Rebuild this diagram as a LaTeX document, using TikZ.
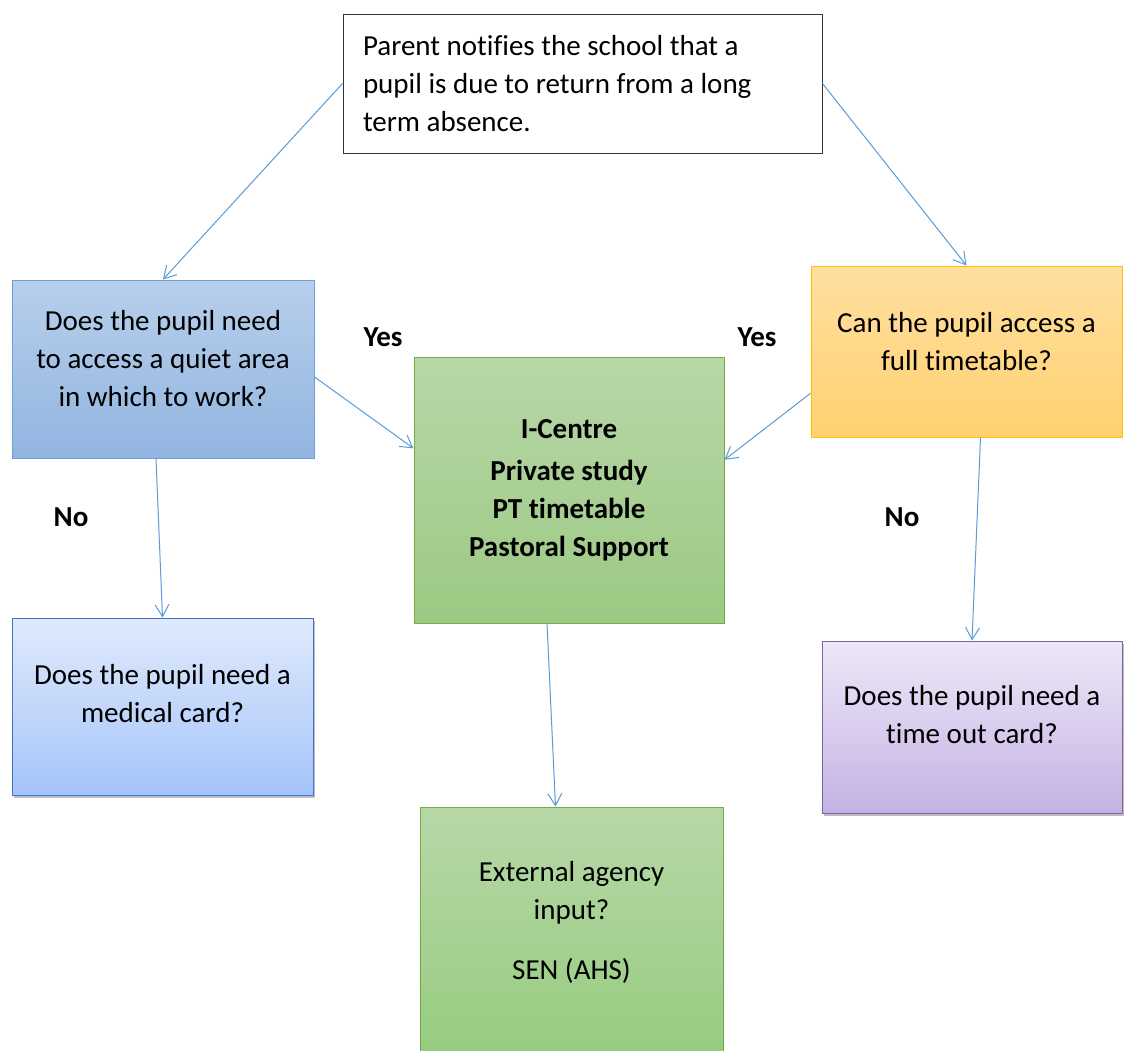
\documentclass[tikz,border=0pt]{standalone}
\usepackage{fontspec}
\setmainfont{Carlito}[Ligatures=NoCommon]
\usetikzlibrary{arrows.meta,shadows}
\definecolor{linkblue}{RGB}{91,155,213}
\definecolor{quietline}{RGB}{108,160,218}
\definecolor{quiettop}{RGB}{183,207,235}
\definecolor{quietbot}{RGB}{146,181,225}
\definecolor{medline}{RGB}{68,114,196}
\definecolor{medtop}{RGB}{224,234,252}
\definecolor{medbot}{RGB}{165,196,250}
\definecolor{greenline}{RGB}{112,173,71}
\definecolor{greentop}{RGB}{184,215,168}
\definecolor{greenbot}{RGB}{156,201,131}
\definecolor{orangeline}{RGB}{255,192,0}
\definecolor{orangetop}{RGB}{255,223,160}
\definecolor{orangebot}{RGB}{255,209,112}
\definecolor{purpline}{RGB}{128,100,162}
\definecolor{purptop}{RGB}{238,232,247}
\definecolor{purpbot}{RGB}{196,178,228}
\tikzset{
  box/.style={draw, rectangle, inner sep=0pt, line width=1pt},
  txt/.style={align=center, font=\fontsize{29}{38}\selectfont},
  lbl/.style={font=\fontsize{29}{38}\selectfont\bfseries},
  shade/.style={drop shadow={shadow xshift=2pt, shadow yshift=-3pt, opacity=0.25, fill=black}},
  link/.style={draw=linkblue, line width=1pt, -{Straight Barb[length=12pt,width=14pt]}}
}
\begin{document}
\begin{tikzpicture}[x=1pt,y=-1pt]
    \clip (0,0) rectangle (1124,1050);
    \fill[white] (0,0) rectangle (1124,1050);
    % boxes
    \node[box, draw=black!80, fill=white, minimum width=479pt, minimum height=139pt,
          text width=439pt, inner xsep=20pt, align=flush left,
          font=\fontsize{29}{38}\selectfont] (parent) at (582.5,83.5)
          {Parent notifies the school that a\\pupil is due to return from a long\\term absence.};
    \node[box, draw=quietline, top color=quiettop, bottom color=quietbot,
          minimum width=302pt, minimum height=178pt] (quiet) at (163,369) {};
    \node[txt] (quiet-txt) at ([yshift=10pt]quiet.center)
          {Does the pupil need\\to access a quiet area\\in which to work?};
    \node[box, draw=orangeline, top color=orangetop, bottom color=orangebot,
          minimum width=311pt, minimum height=171pt] (full) at (966.5,351.5) {};
    \node[txt] (full-txt) at ([yshift=10pt]full.center)
          {Can the pupil access a\\full timetable?};
    \node[box, draw=greenline, top color=greentop, bottom color=greenbot,
          minimum width=310pt, minimum height=266pt, txt, font=\fontsize{29}{38}\selectfont\bfseries]
          (icentre) at (569,490) {I-Centre\\[4pt]Private study\\PT timetable\\Pastoral Support};
    \node[box, shade, draw=medline, top color=medtop, bottom color=medbot,
          minimum width=301pt, minimum height=177pt] (medical) at (162.5,706.5) {};
    \node[txt] (medical-txt) at ([yshift=12.5pt]medical.center)
          {Does the pupil need a\\medical card?};
    \node[box, shade, draw=purpline, top color=purptop, bottom color=purpbot,
          minimum width=300pt, minimum height=172pt] (timeout) at (972,727) {};
    \node[txt] (timeout-txt) at ([yshift=12pt]timeout.center)
          {Does the pupil need a\\time out card?};
    \node[box, draw=greenline, top color=greentop, bottom color=greenbot!95!green,
          minimum width=303pt, minimum height=263pt] (ext) at (571.5,938.5) {};
    \node[txt] (ext-txt) at ([yshift=16pt]ext.center)
          {External agency\\input?\\[22pt]SEN (AHS)};
    % yes / no
    \node[lbl] (yes-quiet) at (383,337) {Yes};
    \node[lbl] (yes-full) at (757,337) {Yes};
    \node[lbl] (no-quiet) at (71,517) {No};
    \node[lbl] (no-full) at (902,517) {No};
    % links
    \draw[link] (parent.west) -- (quiet.north);
    \draw[link] (parent.east) -- (full.north);
    \draw[link] (quiet.-3) -- (icentre.165);
    \draw[link] (full.195) -- (icentre.11);
    \draw[link] ([xshift=-7pt]quiet.south) -- (medical.north);
    \draw[link] ([xshift=14pt]full.south) -- (timeout.north);
    \draw[link] ([xshift=-22pt]icentre.south) -- ([xshift=-16pt]ext.north);
\end{tikzpicture}
\end{document}
